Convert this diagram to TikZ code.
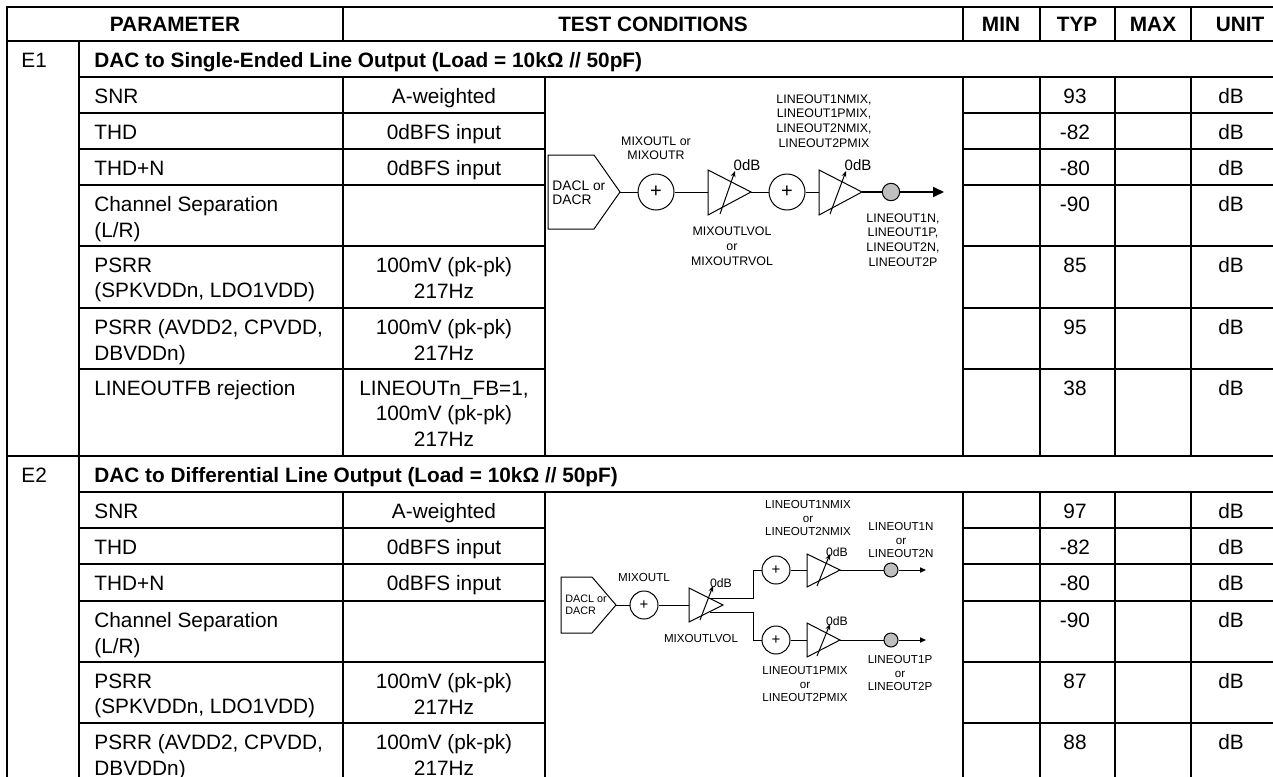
\documentclass[tikz,border=0pt]{standalone}
\usepackage{fontspec}
\setmainfont{Liberation Sans}
\usetikzlibrary{arrows.meta}

\begin{document}
\begin{tikzpicture}[x=0.5pt, y=-0.5pt,
	tline/.style={line width = 1pt, line cap=rect},
	wire/.style={line width = 0.5pt},
	cell/.style={inner sep=0pt, anchor=north west, align=left, font=\fontsize{10.4}{12.75}\selectfont},
	ccell/.style={cell, anchor=north, align=center},
	head/.style={inner sep=0pt, font=\bfseries\fontsize{10.4}{12.75}\selectfont},
	sumA/.style={circle, draw, line width = 0.5pt, minimum size=18pt, inner sep=0pt, font=\fontsize{10}{10}\selectfont},
	sumB/.style={sumA, minimum size=14pt, font=\fontsize{7.5}{7.5}\selectfont},
	dotA/.style={circle, draw, line width = 0.5pt, fill=black!25, minimum size=8.7pt, inner sep=0pt},
	dotB/.style={dotA, minimum size=7pt},
	lblA/.style={inner sep=0pt, align=center, font=\fontsize{6.2}{7.4}\selectfont},
	lblB/.style={inner sep=0pt, align=center, font=\fontsize{5.8}{6.9}\selectfont},
	gain/.style={wire, -{Stealth[length=3pt, width=2.4pt]}}]
	
	\useasboundingbox (0,0) rectangle (1273,776);
	\fill[white] (0,0) rectangle (1273,776);
	\clip (0,0) rectangle (1273,776);
	
	\draw[tline] (7,7) -- (1289,7);
	\draw[tline] (7,41) -- (1289,41);
	\draw[tline] (79,77) -- (1289,77);
	\draw[tline] (79,113) -- (545,113);
	\draw[tline] (963,113) -- (1289,113);
	\draw[tline] (79,149) -- (545,149);
	\draw[tline] (963,149) -- (1289,149);
	\draw[tline] (79,185) -- (545,185);
	\draw[tline] (963,185) -- (1289,185);
	\draw[tline] (79,246) -- (545,246);
	\draw[tline] (963,246) -- (1289,246);
	\draw[tline] (79,308) -- (545,308);
	\draw[tline] (963,308) -- (1289,308);
	\draw[tline] (79,369) -- (545,369);
	\draw[tline] (963,369) -- (1289,369);
	\draw[tline] (7,456) -- (1289,456);
	\draw[tline] (79,492) -- (1289,492);
	\draw[tline] (79,528) -- (545,528);
	\draw[tline] (963,528) -- (1289,528);
	\draw[tline] (79,564) -- (545,564);
	\draw[tline] (963,564) -- (1289,564);
	\draw[tline] (79,601) -- (545,601);
	\draw[tline] (963,601) -- (1289,601);
	\draw[tline] (79,662) -- (545,662);
	\draw[tline] (963,662) -- (1289,662);
	\draw[tline] (79,723) -- (545,723);
	\draw[tline] (963,723) -- (1289,723);
	
	\draw[tline] (7,7) -- (7,790);
	\draw[tline] (79,41) -- (79,790);
	\draw[tline] (343,7) -- (343,41);
	\draw[tline] (343,77) -- (343,456);
	\draw[tline] (343,492) -- (343,790);
	\draw[tline] (545,77) -- (545,456);
	\draw[tline] (545,492) -- (545,790);
	\draw[tline] (963,7) -- (963,41);
	\draw[tline] (963,77) -- (963,456);
	\draw[tline] (963,492) -- (963,790);
	\draw[tline] (1040,7) -- (1040,41);
	\draw[tline] (1040,77) -- (1040,456);
	\draw[tline] (1040,492) -- (1040,790);
	\draw[tline] (1115,7) -- (1115,41);
	\draw[tline] (1115,77) -- (1115,456);
	\draw[tline] (1115,492) -- (1115,790);
	\draw[tline] (1191,7) -- (1191,41);
	\draw[tline] (1191,77) -- (1191,456);
	\draw[tline] (1191,492) -- (1191,790);
	\draw[tline] (1289,7) -- (1289,790);
	
	
	\node[head] (hpar) at (175,24) {PARAMETER};
	\node[head] (hcond) at (653,24) {TEST CONDITIONS};
	\node[head] (hmin) at (1001,24) {MIN};
	\node[head] (htyp) at (1077,24) {TYP};
	\node[head] (hmax) at (1153,24) {MAX};
	\node[head] (hunit) at (1240,24) {UNIT};
	
	\node[cell] (e1) at (21,52.5) {E1};
	\node[head, anchor=north west] (e1title) at (94,52.5) {DAC to Single-Ended Line Output (Load = 10kΩ // 50pF)};
	
	\node[cell] (e1snr) at (94,88.5) {SNR};
	\node[ccell] (e1snrc) at (444,88.5) {A-weighted};
	\node[ccell] (e1snrv) at (1075,88.5) {93};
	\node[ccell] (e1snru) at (1231,88.5) {dB};
	
	\node[cell] (e1thd) at (94,124.5) {THD};
	\node[ccell] (e1thdc) at (444,124.5) {0dBFS input};
	\node[ccell] (e1thdv) at (1075,124.5) {-82};
	\node[ccell] (e1thdu) at (1231,124.5) {dB};
	
	\node[cell] (e1thdn) at (94,160.5) {THD+N};
	\node[ccell] (e1thdnc) at (444,160.5) {0dBFS input};
	\node[ccell] (e1thdnv) at (1075,160.5) {-80};
	\node[ccell] (e1thdnu) at (1231,160.5) {dB};
	
	\node[cell] (e1sep) at (94,196.5) {Channel Separation\\(L/R)};
	\node[ccell] (e1sepv) at (1075,196.5) {-90};
	\node[ccell] (e1sepu) at (1231,196.5) {dB};
	
	\node[cell] (e1psa) at (94,257.5) {PSRR\\(SPKVDDn, LDO1VDD)};
	\node[ccell] (e1psac) at (444,257.5) {100mV (pk-pk)\\217Hz};
	\node[ccell] (e1psav) at (1075,257.5) {85};
	\node[ccell] (e1psau) at (1231,257.5) {dB};
	
	\node[cell] (e1psb) at (94,319.5) {PSRR (AVDD2, CPVDD,\\DBVDDn)};
	\node[ccell] (e1psbc) at (444,319.5) {100mV (pk-pk)\\217Hz};
	\node[ccell] (e1psbv) at (1075,319.5) {95};
	\node[ccell] (e1psbu) at (1231,319.5) {dB};
	
	\node[cell] (e1fb) at (94,380.5) {LINEOUTFB rejection};
	\node[ccell] (e1fbc) at (444,380.5) {LINEOUTn\_FB=1,\\100mV (pk-pk)\\217Hz};
	\node[ccell] (e1fbv) at (1075,380.5) {38};
	\node[ccell] (e1fbu) at (1231,380.5) {dB};
	
	\node[cell] (e2) at (21,467.5) {E2};
	\node[head, anchor=north west] (e2title) at (94,467.5) {DAC to Differential Line Output (Load = 10kΩ // 50pF)};
	
	\node[cell] (e2snr) at (94,503.5) {SNR};
	\node[ccell] (e2snrc) at (444,503.5) {A-weighted};
	\node[ccell] (e2snrv) at (1075,503.5) {97};
	\node[ccell] (e2snru) at (1231,503.5) {dB};
	
	\node[cell] (e2thd) at (94,539.5) {THD};
	\node[ccell] (e2thdc) at (444,539.5) {0dBFS input};
	\node[ccell] (e2thdv) at (1075,539.5) {-82};
	\node[ccell] (e2thdu) at (1231,539.5) {dB};
	
	\node[cell] (e2thdn) at (94,575.5) {THD+N};
	\node[ccell] (e2thdnc) at (444,575.5) {0dBFS input};
	\node[ccell] (e2thdnv) at (1075,575.5) {-80};
	\node[ccell] (e2thdnu) at (1231,575.5) {dB};
	
	\node[cell] (e2sep) at (94,612.5) {Channel Separation\\(L/R)};
	\node[ccell] (e2sepv) at (1075,612.5) {-90};
	\node[ccell] (e2sepu) at (1231,612.5) {dB};
	
	\node[cell] (e2psa) at (94,673.5) {PSRR\\(SPKVDDn, LDO1VDD)};
	\node[ccell] (e2psac) at (444,673.5) {100mV (pk-pk)\\217Hz};
	\node[ccell] (e2psav) at (1075,673.5) {87};
	\node[ccell] (e2psau) at (1231,673.5) {dB};
	
	\node[cell] (e2psb) at (94,734.5) {PSRR (AVDD2, CPVDD,\\DBVDDn)};
	\node[ccell] (e2psbc) at (444,734.5) {100mV (pk-pk)\\217Hz};
	\node[ccell] (e2psbv) at (1075,734.5) {88};
	\node[ccell] (e2psbu) at (1231,734.5) {dB};
	
	
	\draw[wire] (548,155) -- (594,155) -- (620,192) -- (594,229) -- (548,229) -- cycle;
	\coordinate (dacA) at (620,192);
	\node[lblA, align=left, anchor=west, font=\fontsize{6.9}{7.2}\selectfont] (dacAtxt) at (552,193) {DACL or\\DACR};
	
	\node[sumA] (sumA1) at (656,192) {+};
	\node[sumA] (sumA2) at (787,192) {+};
	\node[dotA] (outA) at (891,192) {};
	\coordinate (endA) at (944,192);
	
	\draw[wire] (708,170) -- (751,192) -- (708,215) -- cycle;
	\coordinate (ampA1in) at (708,192);
	\coordinate (ampA1out) at (751,192);
	\draw[gain] (720,214) -- (735,171);
	\node[lblA, font=\fontsize{7.5}{7.5}\selectfont] (gainA1) at (747,165) {0dB};
	
	\draw[wire] (819,170) -- (862,192) -- (819,215) -- cycle;
	\coordinate (ampA2in) at (819,192);
	\coordinate (ampA2out) at (862,192);
	\draw[gain] (830,214) -- (846,171);
	\node[lblA, font=\fontsize{7.5}{7.5}\selectfont] (gainA2) at (858,165) {0dB};
	
	\draw[wire] (dacA) -- (sumA1);
	\draw[wire] (sumA1) -- (ampA1in);
	\draw[wire] (ampA1out) -- (sumA2);
	\draw[wire] (sumA2) -- (ampA2in);
	\draw[line width = 0.9pt] (ampA2out) -- (outA);
	\draw[line width = 0.9pt, -{Triangle[length=5.5pt, width=5pt]}] (outA) -- (endA);
	
	\node[lblA, font=\fontsize{6.2}{7}\selectfont] (mixA) at (656,148) {MIXOUTL or\\MIXOUTR};
	\node[lblA] (lmixA) at (824,121) {LINEOUT1NMIX,\\LINEOUT1PMIX,\\LINEOUT2NMIX,\\LINEOUT2PMIX};
	\node[lblA] (volA) at (732,246) {MIXOUTLVOL\\or\\MIXOUTRVOL};
	\node[lblA] (pinA) at (903,240) {LINEOUT1N,\\LINEOUT1P,\\LINEOUT2N,\\LINEOUT2P};
	
	
	\draw[wire] (561,577) -- (592,577) -- (616,605) -- (592,633) -- (561,633) -- cycle;
	\coordinate (dacB) at (616,605);
	\node[lblB, align=left, anchor=west, font=\fontsize{5.4}{6}\selectfont] (dacBtxt) at (565,605) {DACL or\\DACR};
	
	\node[sumB] (sumB1) at (644,605) {+};
	\node[sumB] (sumB2) at (776,570) {+};
	\node[sumB] (sumB3) at (776,640) {+};
	\node[dotB] (outBn) at (891,570) {};
	\node[dotB] (outBp) at (891,640) {};
	\coordinate (endBn) at (926,570);
	\coordinate (endBp) at (926,640);
	\coordinate (forkB) at (753,605);
	
	\draw[wire] (689,588) -- (723,605) -- (689,622) -- cycle;
	\coordinate (ampB1in) at (689,605);
	\coordinate (ampB1up) at (710,598);
	\coordinate (ampB1dn) at (710,612);
	\draw[gain] (700,620) -- (713,586);
	\node[lblB, font=\fontsize{6.1}{6.1}\selectfont] (gainB1) at (721,583) {0dB};
	
	\draw[wire] (807,554) -- (840,570) -- (807,587) -- cycle;
	\coordinate (ampB2in) at (807,570);
	\coordinate (ampB2out) at (840,570);
	\draw[gain] (817,586) -- (830,554);
	\node[lblB, font=\fontsize{6.1}{6.1}\selectfont] (gainB2) at (837,552) {0dB};
	
	\draw[wire] (807,623) -- (840,640) -- (807,657) -- cycle;
	\coordinate (ampB3in) at (807,640);
	\coordinate (ampB3out) at (840,640);
	\draw[gain] (817,656) -- (830,624);
	\node[lblB, font=\fontsize{6.1}{6.1}\selectfont] (gainB3) at (837,621) {0dB};
	
	\draw[wire] (dacB) -- (sumB1);
	\draw[wire] (sumB1) -- (ampB1in);
	\draw[wire] (ampB1up) -- (ampB1up -| forkB) |- (sumB2);
	\draw[wire] (ampB1dn) -- (ampB1dn -| forkB) |- (sumB3);
	\draw[wire] (sumB2) -- (ampB2in);
	\draw[wire] (sumB3) -- (ampB3in);
	\draw[wire] (ampB2out) -- (outBn);
	\draw[wire] (ampB3out) -- (outBp);
	\draw[wire, -{Triangle[length=3pt, width=2.6pt]}] (outBn) -- (endBn);
	\draw[wire, -{Triangle[length=3pt, width=2.6pt]}] (outBp) -- (endBp);
	
	\node[lblB] (mixB) at (644,577) {MIXOUTL};
	\node[lblB] (volB) at (701,638) {MIXOUTLVOL};
	\node[lblB] (lmixBn) at (808,518) {LINEOUT1NMIX\\or\\LINEOUT2NMIX};
	\node[lblB] (pinBn) at (901,540) {LINEOUT1N\\or\\LINEOUT2N};
	\node[lblB] (lmixBp) at (805,684) {LINEOUT1PMIX\\or\\LINEOUT2PMIX};
	\node[lblB] (pinBp) at (900,673) {LINEOUT1P\\or\\LINEOUT2P};
	
\end{tikzpicture}
\end{document}
